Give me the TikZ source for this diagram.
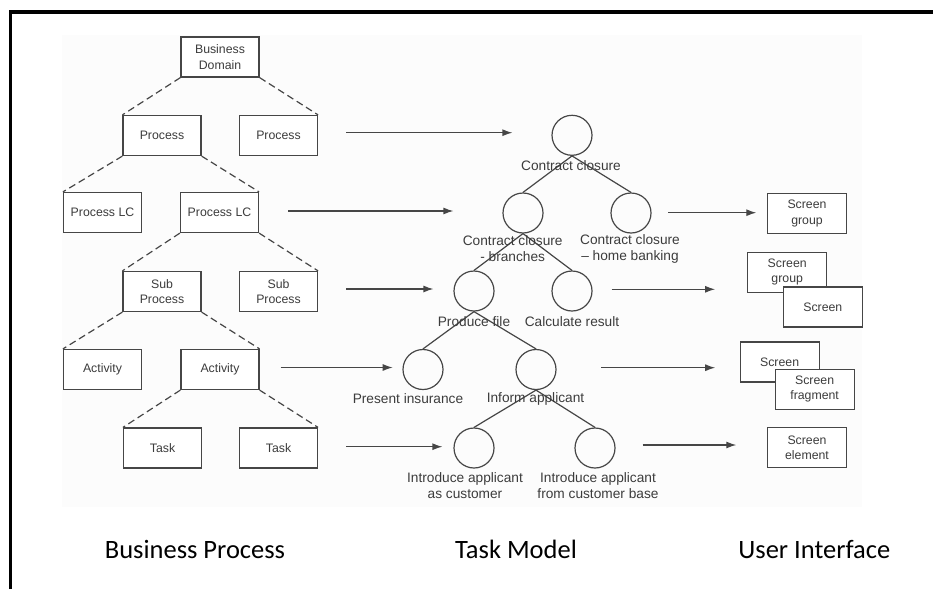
\documentclass[tikz,border=0pt]{standalone}
\usepackage{fontspec}
\setmainfont{Liberation Sans}
\newfontfamily\capfont{Carlito}
\usetikzlibrary{arrows.meta}

\definecolor{linec}{RGB}{70,70,70}
\definecolor{textc}{RGB}{60,60,60}
\definecolor{panel}{RGB}{252,252,252}

\tikzset{
  bbox/.style={draw=linec, fill=white, line width=1.2pt, minimum width=78pt,
    minimum height=40pt, inner sep=0pt, align=center, text=textc,
    font=\fontsize{12.3}{15.5}\selectfont},
  sbox/.style={bbox, minimum width=79pt},
  task/.style={circle, draw=linec, line width=1.2pt, minimum size=40pt, inner sep=0pt},
  tlabel/.style={align=center, text=textc, inner sep=0pt,
    font=\fontsize{13.7}{16}\selectfont},
  hier/.style={draw=linec, line width=1.2pt, dash pattern=on 7pt off 4pt},
  tree/.style={draw=linec, line width=1.2pt},
  arr/.style={draw=linec, line width=1.2pt, -{Latex[length=10pt,width=7pt]}},
  caption/.style={font=\capfont\fontsize{26.5}{30}\selectfont, text=black, anchor=base}
}

\begin{document}
\begin{tikzpicture}[x=1pt, y=-1pt]
\useasboundingbox (0,0) rectangle (933,589);

% frame edges and the light panel
\fill[panel] (62,35) rectangle (862,507);
\draw[black, line width=3.2pt] (10.5,589) -- (10.5,12) -- (933,12);

% business process hierarchy
\node[bbox] (bd)  at (220,57)    {Business\\Domain};
\node[bbox] (p1)  at (162,135.5) {Process};
\node[bbox] (p2)  at (278.5,135.5) {Process};
\node[bbox] (lc1) at (102.5,212.5) {Process LC};
\node[bbox] (lc2) at (219.5,212.5) {Process LC};
\node[bbox] (sp1) at (162,291.5) {Sub\\Process};
\node[bbox] (sp2) at (278.5,291.5) {Sub\\Process};
\node[bbox] (a1)  at (102.5,369.5) {Activity};
\node[bbox] (a2)  at (220,369.5) {Activity};
\node[bbox] (t1)  at (162.5,448) {Task};
\node[bbox] (t2)  at (278.5,448) {Task};

\foreach \up/\lft/\rgt in {bd/p1/p2, p1/lc1/lc2, lc2/sp1/sp2, sp1/a1/a2, a2/t1/t2}{
  \draw[hier] (\up.south west) -- (\lft.north west);
  \draw[hier] (\up.south east) -- (\rgt.north east);
}

% task model tree
\node[task] (c1) at (572,135.3) {};
\node[task] (c2) at (523,213) {};
\node[task] (c3) at (631,213) {};
\node[task] (c4) at (474,291) {};
\node[task] (c5) at (572,291) {};
\node[task] (c6) at (423,369.5) {};
\node[task] (c7) at (536,369.5) {};
\node[task] (c8) at (474,448) {};
\node[task] (c9) at (595,448) {};

\foreach \up/\lft/\rgt in {c1/c2/c3, c2/c4/c5, c4/c6/c7, c7/c8/c9}{
  \draw[tree] (\up.south) -- (\lft.north);
  \draw[tree] (\up.south) -- (\rgt.north);
}

\node[tlabel] (l1) at (571,166)     {Contract closure};
\node[tlabel] (l2) at (512.7,248.7) {Contract closure\\- branches};
\node[tlabel] (l3) at (630,248.7)   {Contract closure\\– home banking};
\node[tlabel] (l4) at (474,321.7)   {Produce file};
\node[tlabel] (l5) at (572,322)     {Calculate result};
\node[tlabel] (l6) at (408,399)     {Present insurance};
\node[tlabel] (l7) at (535.5,399)   {Inform applicant};
\node[tlabel] (l8) at (465,486)     {Introduce applicant\\as customer};
\node[tlabel] (l9) at (598,486)     {Introduce applicant\\from customer base};

% user interface elements
\node[sbox] (s1)  at (807,213.3)   {Screen\\group};
\node[sbox] (s2b) at (787.2,272.2) {Screen\\group};
\node[sbox] (s2f) at (822.8,307)   {Screen};
\node[sbox] (s3b) at (779.6,362)   {Screen};
\node[sbox] (s3f) at (814.6,389.2) {Screen\\fragment};
\node[sbox] (s4)  at (807,447.7)   {Screen\\element};

% mappings between the three levels
\draw[arr, shorten <=28pt, shorten >=39pt]   ([yshift=2.8pt]p2.east)  -- ([yshift=2.6pt]c1.west);
\draw[arr, shorten <=29pt, shorten >=49pt]   ([yshift=1.5pt]lc2.east) -- ([yshift=2pt]c2.west);
\draw[arr, shorten <=28pt, shorten >=20pt]   ([yshift=2.5pt]sp2.east) -- ([yshift=2pt]c4.west);
\draw[arr, shorten <=21pt, shorten >=9.7pt]  ([yshift=2pt]a2.east)    -- ([yshift=2pt]c6.west);
\draw[arr, shorten <=28pt, shorten >=11pt]   ([yshift=1.3pt]t2.east)  -- ([yshift=1.3pt]c8.west);

\draw[arr, shorten <=16.7pt, shorten >=10.6pt] ([yshift=0.3pt]c3.east) -- ([yshift=0.6pt]s1.west);
\draw[arr, shorten <=19pt, shorten >=32pt]     ([yshift=1.7pt]c5.east) -- (s2b.west |- 0,289.3);
\draw[arr, shorten <=44.7pt, shorten >=24.3pt] ([yshift=1.8pt]c7.east) -- (s3b.west |- 0,367.7);
\draw[arr, shorten <=27pt, shorten >=30.6pt]   ([yshift=3pt]c9.east)   -- ([yshift=2.7pt]s4.west);

% column captions
\node[caption] (cap1) at (195,558.5)   {Business Process};
\node[caption] (cap2) at (516,558.5)   {Task Model};
\node[caption] (cap3) at (814.3,558.5) {User Interface};
\end{tikzpicture}
\end{document}
